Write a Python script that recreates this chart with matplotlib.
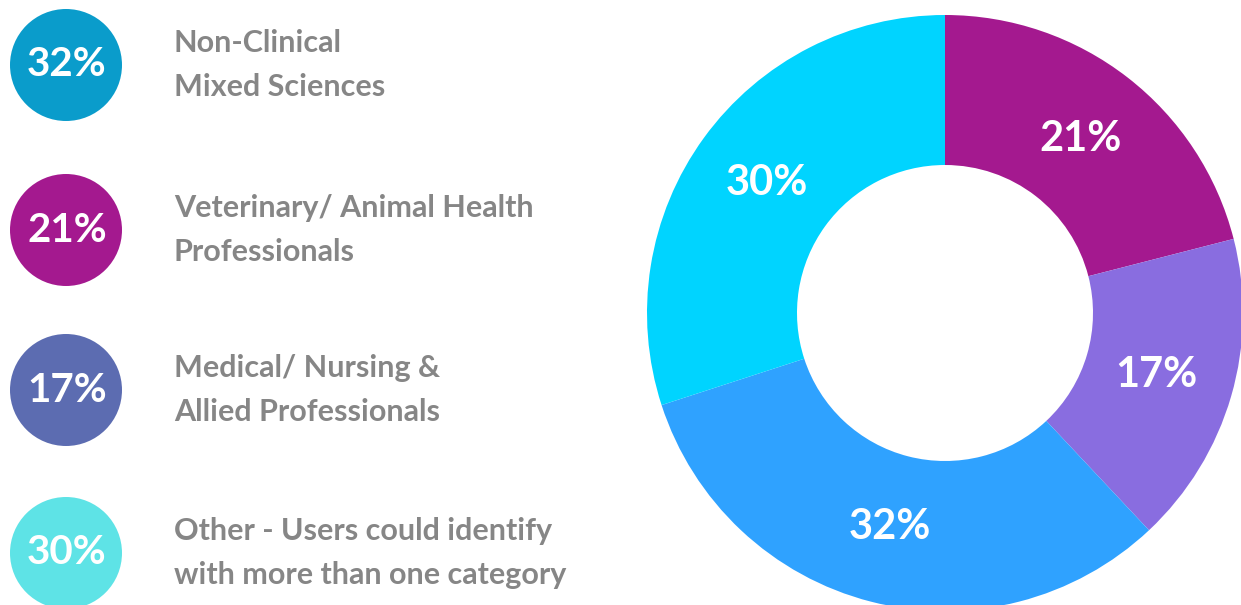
import matplotlib.pyplot as plt
from matplotlib.patches import Circle

W, H = 1241, 605

# donut slices, clockwise from 12 o'clock
slice_values = [21, 17, 32, 30]
slice_colors = ["#A4198F", "#896DE0", "#2FA2FF", "#00D4FF"]

# legend entries on the left
legend_values = [32, 21, 17, 30]
legend_colors = ["#0A9CCB", "#A4198F", "#5C6CB1", "#5EE3E6"]
legend_labels = [
    "Non-Clinical\nMixed Sciences",
    "Veterinary/ Animal Health\nProfessionals",
    "Medical/ Nursing &\nAllied Professionals",
    "Other - Users could identify\nwith more than one category",
]

TEXT_GREY = "#868686"
FONT = ["Lato", "DejaVu Sans"]

fig = plt.figure(figsize=(W / 100, H / 100), dpi=100)
ax = fig.add_axes([0, 0, 1, 1])

wedges, texts, autotexts = ax.pie(
    slice_values,
    colors=slice_colors,
    startangle=90,
    counterclock=False,
    radius=298,
    center=(945, H - 313),
    wedgeprops=dict(width=150, linewidth=0),
    autopct=lambda p: f"{p:.0f}%",
    pctdistance=0.74,
    textprops=dict(color="white", fontsize=30, fontweight="bold", family=FONT),
)

# left legend: coloured discs + two-line captions
row_y = [65, 230, 390, 553]
for y, v, c, lab in zip(row_y, legend_values, legend_colors, legend_labels):
    ax.add_patch(Circle((66, H - y), 56, color=c, lw=0))
    ax.text(67, H - y, f"{v}%", color="white", fontsize=29, fontweight="bold",
            family=FONT, ha="center", va="center")
    ax.text(174, H - y, lab, color=TEXT_GREY, fontsize=22, fontweight="bold",
            family=FONT, ha="left", va="center", linespacing=1.72)

ax.set_xlim(0, W)
ax.set_ylim(0, H)
ax.set_aspect("equal")
ax.axis("off")
fig.savefig("out.png", dpi=100, facecolor="white")
